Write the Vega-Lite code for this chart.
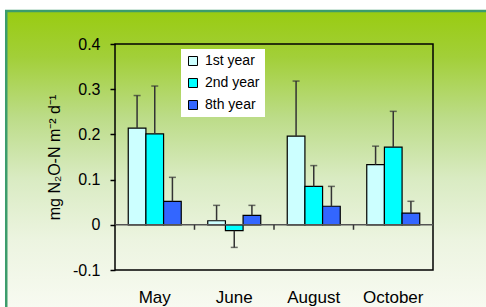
{
  "$schema": "https://vega.github.io/schema/vega-lite/v6.json",
  "autosize": {"type": "none"},
  "width": 318,
  "height": 226,
  "padding": {"left": 115, "top": 44, "right": 53, "bottom": 37},
  "background": "white",
  "config": {
    "font": "Liberation Sans",
    "view": {"stroke": null}
  },
  "datasets": {
    "bars": [
      {"month": "May", "year": "1st year", "value": 0.214, "err": 0.286},
      {"month": "May", "year": "2nd year", "value": 0.201, "err": 0.307},
      {"month": "May", "year": "8th year", "value": 0.052, "err": 0.105},
      {"month": "June", "year": "1st year", "value": 0.009, "err": 0.043},
      {"month": "June", "year": "2nd year", "value": -0.013, "err": -0.050},
      {"month": "June", "year": "8th year", "value": 0.021, "err": 0.043},
      {"month": "August", "year": "1st year", "value": 0.196, "err": 0.318},
      {"month": "August", "year": "2nd year", "value": 0.085, "err": 0.131},
      {"month": "August", "year": "8th year", "value": 0.041, "err": 0.085},
      {"month": "October", "year": "1st year", "value": 0.133, "err": 0.174},
      {"month": "October", "year": "2nd year", "value": 0.172, "err": 0.251},
      {"month": "October", "year": "8th year", "value": 0.026, "err": 0.052}
    ],
    "dividers": [
      {"month": "June"},
      {"month": "August"},
      {"month": "October"}
    ]
  },
  "layer": [
    {
      "data": {"values": [{"k": 1}]},
      "layer": [
        {
          "mark": {
            "type": "rect",
            "clip": false,
            "stroke": "#3C9C6C",
            "strokeWidth": 2.5,
            "fill": {
              "gradient": "linear",
              "x1": 0, "y1": 0, "x2": 0, "y2": 1,
              "stops": [
                {"offset": 0, "color": "#99CC11"},
                {"offset": 0.15, "color": "#A2CF38"},
                {"offset": 0.35, "color": "#BCDC88"},
                {"offset": 0.55, "color": "#D9EBC2"},
                {"offset": 0.75, "color": "#ECF4E0"},
                {"offset": 1, "color": "#F9FBF3"}
              ]
            }
          },
          "encoding": {
            "x": {"datum": -0.342, "type": "quantitative", "scale": {"domain": [0, 1], "nice": false, "zero": false}, "axis": null},
            "x2": {"datum": 1.2},
            "y": {"datum": 0.473, "type": "quantitative", "scale": {"domain": [-0.1, 0.4], "nice": false}},
            "y2": {"datum": -0.2}
          }
        },
        {
          "mark": {"type": "rect", "fill": null, "stroke": "black", "strokeWidth": 1.5},
          "encoding": {
            "x": {"datum": 0, "type": "quantitative", "scale": {"domain": [0, 1], "nice": false, "zero": false}, "axis": null},
            "x2": {"datum": 1},
            "y": {"datum": -0.1, "type": "quantitative"},
            "y2": {"datum": 0.4}
          }
        }
      ]
    },
    {
      "layer": [
        {
          "data": {"name": "bars"},
          "mark": {"type": "bar", "stroke": "black", "strokeWidth": 1.2},
          "encoding": {
            "x": {
              "field": "month", "type": "nominal",
              "scale": {"domain": ["May", "June", "August", "October"], "paddingInner": 0, "paddingOuter": 0},
              "axis": {"title": null, "zindex": 2, "labelAngle": 0, "domain": false, "ticks": false, "tickSize": 0, "labelPadding": 19, "labelFontSize": 17, "labelColor": "black"}
            },
            "xOffset": {"field": "year", "type": "nominal", "scale": {"paddingInner": 0, "paddingOuter": 0.75}},
            "y": {
              "field": "value", "type": "quantitative",
              "scale": {"domain": [-0.1, 0.4], "nice": false},
              "axis": {
                "zindex": 2,
                "title": "mg N₂O-N m⁻² d⁻¹",
                "titleFontSize": 16, "titleFontWeight": "normal", "titleColor": "black", "titlePadding": 10,
                "values": [-0.1, 0, 0.1, 0.2, 0.3, 0.4],
                "labelExpr": "datum.value == 0 ? '0' : (datum.value < 0 ? '-' + format(-datum.value, '.1f') : format(datum.value, '.1f'))",
                "labelFontSize": 16, "labelColor": "black", "labelPadding": 10,
                "grid": false, "domain": false,
                "tickSize": 5, "tickColor": "black", "tickWidth": 1.5
              }
            },
            "y2": {"datum": 0},
            "color": {
              "field": "year", "type": "nominal",
              "scale": {"domain": ["1st year", "2nd year", "8th year"], "range": ["#CCFFFF", "#00FFFF", "#3366FF"]},
              "legend": {
                "title": null, "orient": "none", "legendX": 66, "legendY": 5,
                "fillColor": "white", "padding": 5,
                "symbolType": "square", "symbolSize": 81, "symbolStrokeWidth": 1, "symbolStrokeColor": "black",
                "labelFontSize": 14, "labelColor": "black", "rowPadding": 8, "labelOffset": 5
              }
            }
          }
        },
        {
          "data": {"name": "bars"},
          "mark": {"type": "rule", "color": "#333", "strokeWidth": 1.5},
          "encoding": {
            "x": {"field": "month", "type": "nominal", "scale": {"domain": ["May", "June", "August", "October"]}},
            "xOffset": {"field": "year", "type": "nominal"},
            "y": {"field": "value", "type": "quantitative"},
            "y2": {"field": "err"}
          }
        },
        {
          "data": {"name": "bars"},
          "mark": {"type": "tick", "color": "#333", "size": 7, "thickness": 1.5, "orient": "horizontal"},
          "encoding": {
            "x": {"field": "month", "type": "nominal", "scale": {"domain": ["May", "June", "August", "October"]}},
            "xOffset": {"field": "year", "type": "nominal"},
            "y": {"field": "err", "type": "quantitative"}
          }
        },
        {
          "data": {"values": [{"k": 1}]},
          "mark": {"type": "rule", "color": "#555", "strokeWidth": 1.5},
          "encoding": {"y": {"datum": 0, "type": "quantitative"}}
        },
        {
          "data": {"name": "dividers"},
          "mark": {"type": "rule", "color": "#333", "strokeWidth": 1.5},
          "encoding": {
            "x": {"field": "month", "type": "nominal", "bandPosition": 0, "scale": {"domain": ["May", "June", "August", "October"]}},
            "y": {"datum": 0, "type": "quantitative"},
            "y2": {"datum": -0.011}
          }
        }
      ]
    }
  ],
  "resolve": {"scale": {"x": "independent"}, "axis": {"x": "independent"}}
}
